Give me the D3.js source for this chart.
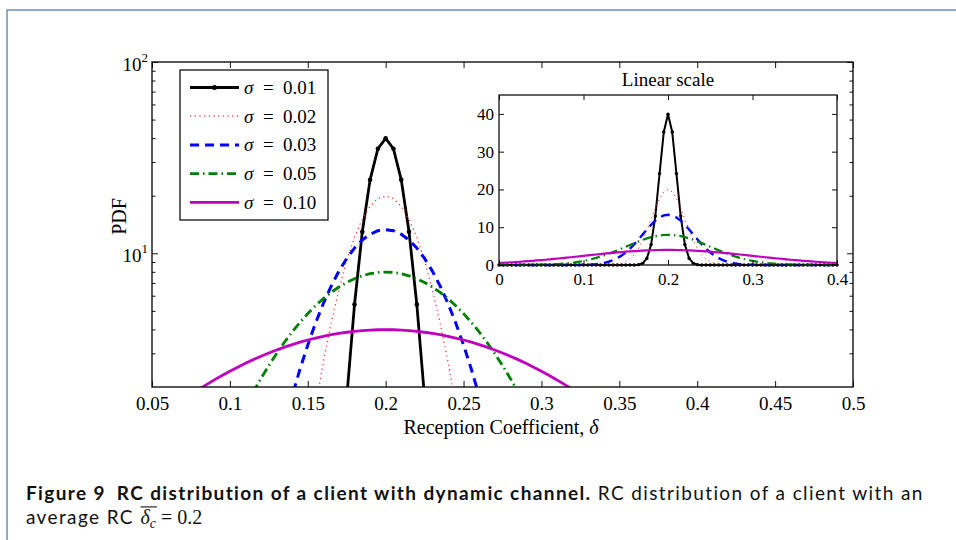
<!DOCTYPE html>
<html><head><meta charset="utf-8">
<script src="https://cdn.jsdelivr.net/npm/d3@7"></script>
<style>body{margin:0;background:#fff} svg{display:block}</style>
</head><body><svg id="c" width="956" height="540"></svg>
<script>
// ---------- data ----------
const delta = [0,0.005,0.01,0.015,0.02,0.025,0.03,0.035,0.04,0.045,
0.05,0.055,0.06,0.065,0.07,0.075,0.08,0.085,0.09,0.095,
0.1,0.105,0.11,0.115,0.12,0.125,0.13,0.135,0.14,0.145,
0.15,0.155,0.16,0.165,0.17,0.175,0.18,0.185,0.19,0.195,
0.2,
0.205,0.21,0.215,0.22,0.225,0.23,0.235,0.24,0.245,0.25,
0.255,0.26,0.265,0.27,0.275,0.28,0.285,0.29,0.295,0.3,
0.305,0.31,0.315,0.32,0.325,0.33,0.335,0.34,0.345,0.35,
0.355,0.36,0.365,0.37,0.375,0.38,0.385,0.39,0.395,0.4];

const pdf001 = [0,0,0,0,0,0,0,0,0,0,
0,0,0,0,0,0,0,0,0,0,
0,0,0,0,0,0,0,0,0,0,
0.0001,0.0016,0.0134,0.0873,0.443,1.753,5.399,12.95,24.20,35.21,
39.89,
35.21,24.20,12.95,5.399,1.753,0.443,0.0873,0.0134,0.0016,0.0001,
0,0,0,0,0,0,0,0,0,0,
0,0,0,0,0,0,0,0,0,0,
0,0,0,0,0,0,0,0,0,0];

const pdf002 = [0,0,0,0,0,0,0,0,0,0,
0,0,0,0,0,0,0,0,0,0,
0,0.0002,0.0008,0.0024,0.0067,0.0176,0.0436,0.1015,0.2216,0.4548,
0.8765,1.587,2.700,4.315,6.477,9.132,12.10,15.06,17.60,19.33,
19.95,
19.33,17.60,15.06,12.10,9.132,6.477,4.315,2.700,1.587,0.8765,
0.4548,0.2216,0.1015,0.0436,0.0176,0.0067,0.0024,0.0008,0.0002,0,
0,0,0,0,0,0,0,0,0,0,
0,0,0,0,0,0,0,0,0,0];

const pdf003 = [0,0,0,0,0,0,0,0,0,0,
0,0,0.0002,0.0005,0.0011,0.0023,0.0045,0.0086,0.0160,0.0291,
0.0514,0.0884,0.1477,0.2401,0.3798,0.5844,0.8738,1.272,1.800,2.478,
3.316,4.318,5.467,6.733,8.066,9.397,10.65,11.74,12.58,13.12,
13.30,
13.12,12.58,11.74,10.65,9.397,8.066,6.733,5.467,4.318,3.316,
2.478,1.800,1.272,0.8738,0.5844,0.3798,0.2401,0.1477,0.0884,0.0514,
0.0291,0.0160,0.0086,0.0045,0.0023,0.0011,0.0005,0.0002,0,0,
0,0,0,0,0,0,0,0,0,0];

const pdf005 = [0.0027,0.0040,0.0058,0.0085,0.0122,0.0175,0.0246,0.0344,0.0477,0.0654,
0.0887,0.1191,0.1583,0.2084,0.2717,0.3506,0.4479,0.5665,0.7095,0.8800,
1.080,1.312,1.579,1.881,2.218,2.591,2.995,3.428,3.884,4.357,
4.839,5.322,5.794,6.245,6.665,7.041,7.365,7.628,7.821,7.939,
7.979,
7.939,7.821,7.628,7.365,7.041,6.665,6.245,5.794,5.322,4.839,
4.357,3.884,3.428,2.995,2.591,2.218,1.881,1.579,1.312,1.080,
0.8800,0.7095,0.5665,0.4479,0.3506,0.2717,0.2084,0.1583,0.1191,0.0887,
0.0654,0.0477,0.0344,0.0246,0.0175,0.0122,0.0085,0.0058,0.0040,0.0027];

const pdf010 = [0.540,0.596,0.656,0.721,0.789,0.863,0.941,1.023,1.109,1.200,
1.295,1.394,1.497,1.604,1.714,1.826,1.942,2.059,2.178,2.299,
2.420,2.540,2.661,2.780,2.897,3.011,3.122,3.230,3.332,3.429,
3.521,3.605,3.683,3.752,3.814,3.866,3.910,3.945,3.969,3.984,
3.989,
3.984,3.969,3.945,3.910,3.866,3.814,3.752,3.683,3.605,3.521,
3.429,3.332,3.230,3.122,3.011,2.897,2.780,2.661,2.540,2.420,
2.299,2.178,2.059,1.942,1.826,1.714,1.604,1.497,1.394,1.295,
1.200,1.109,1.023,0.941,0.863,0.789,0.721,0.656,0.596,0.540];

const sigmaLabels = ["0.01","0.02","0.03","0.05","0.10"];
const xTicksMain = [0.05,0.1,0.15,0.2,0.25,0.3,0.35,0.4,0.45,0.5];
const xTickLabelsMain = ["0.05","0.1","0.15","0.2","0.25","0.3","0.35","0.4","0.45","0.5"];
const yMajorMain = [10,100];
const yMajorExp = ["1","2"];
const yMinorMain = [3,4,5,6,7,8,9,20,30,40,50,60,70,80,90];
const xTicksInset = [0,0.1,0.2,0.3,0.4];
const xTickLabelsInset = ["0","0.1","0.2","0.3","0.4"];
const yTicksInset = [0,10,20,30,40];
const yTickLabelsInset = ["0","10","20","30","40"];
const xLabelText = "Reception Coefficient, ";
const yLabelText = "PDF";
const insetTitle = "Linear scale";
const captionBold = "Figure 9\u2002RC distribution of a client with dynamic channel.";
const captionRest = " RC distribution of a client with an";
const captionLine2 = "average RC";

// ---------- styles ----------
const series = [pdf001, pdf002, pdf003, pdf005, pdf010];
const styles = [
  {color:"#000000", w:2.8, wi:2.0, dash:null, marker:true},
  {color:"#ff2020", w:1.2, wi:1.0, dash:"1.2,3.5"},
  {color:"#0000ff", w:3.0, wi:2.4, dash:"9,6"},
  {color:"#008000", w:2.8, wi:2.2, dash:"9,4,1.5,4"},
  {color:"#bf00bf", w:2.8, wi:2.2, dash:null}
];
const SERIF = "'Liberation Serif','Times New Roman',serif";

const svg = d3.select("#c");

// page frame
svg.append("path").attr("d","M7,540V10H956").attr("fill","none")
  .attr("stroke","#7290b6").attr("stroke-width",1.5);

// ---------- main plot ----------
const M = {l:152, r:853, t:62, b:387};
const x = d3.scaleLinear().domain([0.05,0.5]).range([M.l,M.r]);
const y = d3.scaleLog().domain([2,100]).range([M.b,M.t]);

svg.append("clipPath").attr("id","clipMain").append("rect")
  .attr("x",M.l).attr("y",M.t).attr("width",M.r-M.l).attr("height",M.b-M.t);

const gMain = svg.append("g").attr("clip-path","url(#clipMain)");
const lineMain = d3.line().x((d,i)=>x(delta[i])).y(d=>y(Math.max(d,1e-4)));
series.forEach((vals,si)=>{
  const st = styles[si];
  gMain.append("path").attr("d",lineMain(vals)).attr("fill","none")
    .attr("stroke",st.color).attr("stroke-width",st.w)
    .attr("stroke-dasharray",st.dash).attr("stroke-linejoin","round");
  if(st.marker){
    gMain.selectAll(null).data(vals).join("circle")
      .attr("cx",(d,i)=>x(delta[i])).attr("cy",d=>y(Math.max(d,1e-4)))
      .attr("r",2.3).attr("fill",st.color);
  }
});

function styleAxis(g, fs){
  g.select(".domain").remove();
  g.selectAll(".tick line").attr("stroke","#111").attr("stroke-width",1);
  g.selectAll("text").attr("fill","#000").style("font-family",SERIF).style("font-size",fs+"px");
  g.attr("font-family",null).attr("font-size",null);
}

// x axes
const axB = svg.append("g").attr("transform",`translate(0,${M.b})`)
  .call(d3.axisBottom(x).tickValues(xTicksMain).tickSize(-6).tickSizeOuter(0).tickPadding(10)
    .tickFormat((d,i)=>xTickLabelsMain[i]));
styleAxis(axB,19);
const axT = svg.append("g").attr("transform",`translate(0,${M.t})`)
  .call(d3.axisTop(x).tickValues(xTicksMain).tickSize(-6).tickSizeOuter(0).tickFormat(""));
styleAxis(axT,19);
// y axes
[[M.l, d3.axisLeft],[M.r, d3.axisRight]].forEach(([px,fn])=>{
  const a1 = svg.append("g").attr("transform",`translate(${px},0)`)
    .call(fn(y).tickValues(yMajorMain).tickSize(-6).tickSizeOuter(0).tickFormat(""));
  styleAxis(a1,19);
  const a2 = svg.append("g").attr("transform",`translate(${px},0)`)
    .call(fn(y).tickValues(yMinorMain).tickSize(-3.5).tickSizeOuter(0).tickFormat(""));
  styleAxis(a2,19);
});
// y major labels (10^n)
yMajorMain.forEach((v,i)=>{
  const t = svg.append("text").attr("x",M.l-4).attr("y",y(v)+9)
    .attr("text-anchor","end").style("font-family",SERIF).style("font-size","19px").attr("fill","#000");
  t.append("tspan").text("10");
  t.append("tspan").attr("dy",-9).style("font-size","13px").text(yMajorExp[i]);
});
// frame
svg.append("rect").attr("x",M.l).attr("y",M.t).attr("width",M.r-M.l).attr("height",M.b-M.t)
  .attr("fill","none").attr("stroke","#111").attr("stroke-width",1.4);

// axis labels
const xl = svg.append("text").attr("x",501).attr("y",434).attr("text-anchor","middle")
  .style("font-family",SERIF).style("font-size","20px").attr("fill","#000");
xl.append("tspan").text(xLabelText);
xl.append("tspan").style("font-style","italic").text("δ");
svg.append("text").attr("transform",`translate(126,${(M.t+M.b)/2-8}) rotate(-90)`)
  .attr("text-anchor","middle").style("font-family",SERIF).style("font-size","20px").attr("fill","#000")
  .text(yLabelText);

// ---------- legend ----------
const L = {x:180, y:70, w:148, h:150};
svg.append("rect").attr("x",L.x).attr("y",L.y).attr("width",L.w).attr("height",L.h)
  .attr("fill","#fff").attr("stroke","#111").attr("stroke-width",1.3);
styles.forEach((st,i)=>{
  const yy = L.y + 17.5 + i*28.7;
  svg.append("line").attr("x1",L.x+10).attr("x2",L.x+59).attr("y1",yy).attr("y2",yy)
    .attr("stroke",st.color).attr("stroke-width",st.w).attr("stroke-dasharray",st.dash);
  if(st.marker) svg.append("circle").attr("cx",L.x+34.5).attr("cy",yy).attr("r",2.5).attr("fill",st.color);
  const t = svg.append("text").attr("x",L.x+64).attr("y",yy+6.5)
    .style("font-family",SERIF).style("font-size","19px").attr("fill","#000");
  t.append("tspan").style("font-style","italic").text("σ");
  t.append("tspan").text("\u2002=\u2002" + sigmaLabels[i]);
});

// ---------- inset ----------
const I = {l:499, r:837, t:95, b:265};
const xi = d3.scaleLinear().domain([0,0.4]).range([I.l,I.r]);
const yi = d3.scaleLinear().domain([0,45]).range([I.b,I.t]);
svg.append("rect").attr("x",I.l).attr("y",I.t).attr("width",I.r-I.l).attr("height",I.b-I.t).attr("fill","#fff");
svg.append("clipPath").attr("id","clipInset").append("rect")
  .attr("x",I.l-2).attr("y",I.t).attr("width",I.r-I.l+4).attr("height",I.b-I.t+2);
const gIn = svg.append("g").attr("clip-path","url(#clipInset)");
const lineIn = d3.line().x((d,i)=>xi(delta[i])).y(d=>yi(d));
series.forEach((vals,si)=>{
  const st = styles[si];
  gIn.append("path").attr("d",lineIn(vals)).attr("fill","none")
    .attr("stroke",st.color).attr("stroke-width",st.wi)
    .attr("stroke-dasharray",st.dash).attr("stroke-linejoin","round");
  if(st.marker){
    gIn.selectAll(null).data(vals).join("circle")
      .attr("cx",(d,i)=>xi(delta[i])).attr("cy",d=>yi(d)).attr("r",1.7).attr("fill",st.color);
  }
});
const iB = svg.append("g").attr("transform",`translate(0,${I.b})`)
  .call(d3.axisBottom(xi).tickValues(xTicksInset).tickSize(-5).tickSizeOuter(0).tickPadding(8)
    .tickFormat((d,i)=>xTickLabelsInset[i]));
styleAxis(iB,17);
const iT = svg.append("g").attr("transform",`translate(0,${I.t})`)
  .call(d3.axisTop(xi).tickValues(xTicksInset).tickSize(-5).tickSizeOuter(0).tickFormat(""));
styleAxis(iT,17);
const iL = svg.append("g").attr("transform",`translate(${I.l},0)`)
  .call(d3.axisLeft(yi).tickValues(yTicksInset).tickSize(-5).tickSizeOuter(0).tickPadding(5)
    .tickFormat((d,i)=>yTickLabelsInset[i]));
styleAxis(iL,17);
const iR = svg.append("g").attr("transform",`translate(${I.r},0)`)
  .call(d3.axisRight(yi).tickValues(yTicksInset).tickSize(-5).tickSizeOuter(0).tickFormat(""));
styleAxis(iR,17);
svg.append("rect").attr("x",I.l).attr("y",I.t).attr("width",I.r-I.l).attr("height",I.b-I.t)
  .attr("fill","none").attr("stroke","#111").attr("stroke-width",1.3);
svg.append("text").attr("x",(I.l+I.r)/2).attr("y",I.t-9).attr("text-anchor","middle")
  .style("font-family",SERIF).style("font-size","19px").attr("fill","#000").text(insetTitle);

// ---------- caption ----------
const CAPF = "Lato,'Open Sans','DejaVu Sans',sans-serif";
const CFS = 19;
const cap = svg.append("text").attr("x",26).attr("y",500)
  .style("font-family",CAPF).style("font-size",CFS+"px").attr("fill","#111");
cap.append("tspan").attr("font-weight","bold").text(captionBold);
cap.append("tspan").text(captionRest);
const wcap = cap.node().getComputedTextLength();
const nChars = (captionBold + captionRest).length;
const ls = Math.max(0, (897 - wcap) / (nChars - 1));
cap.style("letter-spacing", ls + "px");

const c2 = svg.append("text").attr("x",26).attr("y",524)
  .style("font-family",CAPF).style("font-size",CFS+"px").style("letter-spacing",ls+"px")
  .attr("fill","#111").text(captionLine2);
let cx = 26 + c2.node().getComputedTextLength() + CFS*0.35;
const d1 = svg.append("text").attr("x",cx).attr("y",524).style("font-family",SERIF)
  .style("font-style","italic").style("font-size",(CFS+1)+"px").attr("fill","#111").text("δ");
const dw = d1.node().getComputedTextLength();
const s1 = svg.append("text").attr("x",cx+dw).attr("y",528).style("font-family",SERIF)
  .style("font-style","italic").style("font-size",(CFS*0.72)+"px").attr("fill","#111").text("c");
const sw = s1.node().getComputedTextLength();
svg.append("line").attr("x1",cx).attr("x2",cx+dw+sw+1).attr("y1",524-CFS*0.9).attr("y2",524-CFS*0.9)
  .attr("stroke","#111").attr("stroke-width",1.1);
svg.append("text").attr("x",cx+dw+sw+5).attr("y",524).style("font-family",SERIF)
  .style("font-size",(CFS+1)+"px").attr("fill","#111").text("= 0.2");
</script></body></html>
